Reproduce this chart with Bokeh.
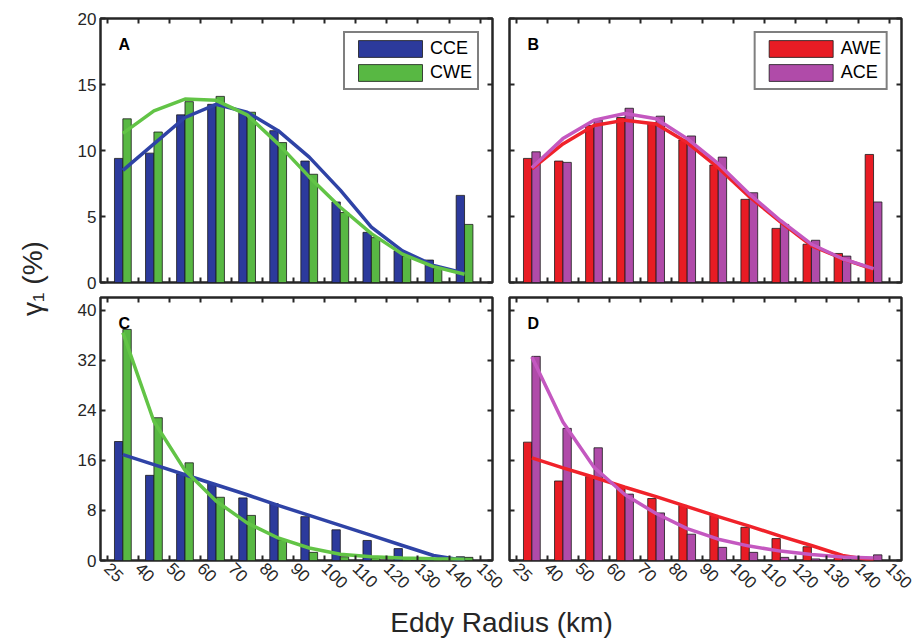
import math
import numpy as np
from bokeh.plotting import figure
from bokeh.models import FixedTicker, LinearAxis, Label, Legend, LegendItem, Range1d
from bokeh.layouts import row, column
from bokeh.embed import file_html
from bokeh.resources import INLINE

# ---------------- data ----------------
radius_labels = ["25", "40", "50", "60", "70", "80", "90", "100", "110", "120", "130", "140", "150"]

# Panel A (CCE / CWE)
cce_a = [9.4, 9.8, 12.7, 13.5, 12.9, 11.5, 9.2, 6.1, 3.8, 2.4, 1.7, 6.6]
cwe_a = [12.4, 11.4, 13.7, 14.1, 12.9, 10.6, 8.2, 5.3, 3.4, 2.0, 1.1, 4.4]
cce_a_fit = [8.5, 10.5, 12.5, 13.5, 12.9, 11.5, 9.5, 7.0, 4.2, 2.4, 1.3, 0.7]
cwe_a_fit = [11.3, 13.0, 13.9, 13.8, 12.7, 10.5, 8.0, 5.7, 3.7, 2.15, 1.2, 0.63]

# Panel B (AWE / ACE)
awe_b = [9.4, 9.2, 11.9, 12.5, 12.1, 10.8, 8.9, 6.3, 4.1, 2.9, 2.2, 9.7]
ace_b = [9.9, 9.1, 12.3, 13.2, 12.6, 11.1, 9.5, 6.8, 4.4, 3.2, 2.0, 6.1]
awe_b_fit = [8.6, 10.5, 11.9, 12.3, 12.0, 10.6, 8.7, 6.5, 4.6, 2.8, 1.8, 1.0]
ace_b_fit = [8.7, 10.9, 12.3, 12.8, 12.4, 10.9, 9.0, 6.7, 4.7, 2.9, 1.8, 1.05]

# Panel C (CCE / CWE)
cce_c = [19.0, 13.6, 13.8, 12.3, 10.0, 9.1, 7.0, 4.9, 3.2, 1.9, 0.4, 0.6]
cwe_c = [36.9, 22.8, 15.6, 10.1, 7.2, 3.3, 1.3, 0.6, 0.4, 0.3, 0.2, 0.5]
cce_c_fit = [16.9, 15.3, 13.7, 12.1, 10.5, 8.8, 7.2, 5.6, 4.0, 2.4, 0.8, 0.0]
cwe_c_fit = [36.4, 22.2, 14.4, 9.5, 6.0, 3.6, 2.0, 1.0, 0.6, 0.4, 0.27, 0.2]

# Panel D (AWE / ACE)
awe_d = [18.9, 12.7, 13.4, 11.8, 9.9, 8.8, 7.2, 5.3, 3.5, 2.2, 0.6, 0.5]
ace_d = [32.6, 21.1, 18.0, 10.6, 7.6, 4.2, 2.1, 1.3, 0.5, 0.25, 0.2, 0.9]
awe_d_fit = [16.4, 14.8, 13.3, 11.7, 10.2, 8.6, 7.0, 5.5, 3.9, 2.4, 0.8, 0.0]
ace_d_fit = [32.5, 22.1, 14.9, 10.5, 7.5, 5.1, 3.4, 2.3, 1.5, 0.95, 0.55, 0.4]

yticks_top = [0, 5, 10, 15, 20]
yticks_bottom = [0, 8, 16, 24, 32, 40]

# ---------------- style ----------------
FONT = "Liberation Sans"
INK = "#262626"
BLUE_BAR, BLUE_LINE = "#2c3a9c", "#2f43a6"
GREEN_BAR, GREEN_LINE = "#58b843", "#62c446"
RED_BAR, RED_LINE = "#e81c24", "#f0222a"
PURPLE_BAR, PURPLE_LINE = "#b04ba9", "#c458c0"
TICK_FS = "17px"

n_groups = len(cce_a)
centers = np.arange(n_groups) + 0.5
BW = 0.27
xticks = list(range(len(radius_labels)))


def tick_style(ax, ticks):
    ax.ticker = FixedTicker(ticks=ticks)
    ax.axis_line_color = None
    ax.major_tick_in = 5
    ax.major_tick_out = 0
    ax.major_tick_line_width = 2
    ax.major_tick_line_color = INK
    ax.minor_tick_line_color = None
    ax.major_label_text_font = FONT
    ax.major_label_text_color = INK
    ax.major_label_text_font_size = TICK_FS
    ax.major_label_standoff = 4


def hide_labels(ax, ticks):
    ax.major_label_overrides = {t: "" for t in ticks}
    ax.major_label_text_font_size = "0px"
    ax.major_label_standoff = 0


def panel(letter, s1, s2, f1, f2, c1, c2, names, ymax, yticks,
          width, height, bl, br, bt, bb, show_x, show_y, legend):
    p = figure(width=width, height=height, x_range=Range1d(-0.22, 12.4),
               y_range=Range1d(0, ymax), toolbar_location=None,
               output_backend="svg", min_border_left=bl, min_border_right=br,
               min_border_top=bt, min_border_bottom=bb)
    p.grid.visible = False
    p.outline_line_color = INK
    p.outline_line_width = 2.5
    p.outline_line_alpha = 1.0
    p.background_fill_color = "white"
    p.border_fill_color = "white"

    xa = p.xaxis[0]
    tick_style(xa, xticks)
    if show_x:
        xa.major_label_overrides = {i: lab for i, lab in enumerate(radius_labels)}
        xa.major_label_orientation = -math.pi / 4
        xa.major_label_standoff = 5
    else:
        hide_labels(xa, xticks)
    ya = p.yaxis[0]
    tick_style(ya, yticks)
    if not show_y:
        hide_labels(ya, yticks)

    top_ax = LinearAxis()
    tick_style(top_ax, xticks)
    hide_labels(top_ax, xticks)
    p.add_layout(top_ax, "above")
    right_ax = LinearAxis()
    tick_style(right_ax, yticks)
    hide_labels(right_ax, yticks)
    p.add_layout(right_ax, "right")

    r1 = p.vbar(x=centers - BW / 2, top=s1, width=BW, fill_color=c1[0],
                line_color="#1a1a1a", line_width=0.8)
    r2 = p.vbar(x=centers + BW / 2, top=s2, width=BW, fill_color=c2[0],
                line_color="#1a1a1a", line_width=0.8)
    p.line(x=centers, y=f1, line_color=c1[1], line_width=3.5)
    p.line(x=centers, y=f2, line_color=c2[1], line_width=3.5)

    p.add_layout(Label(x=0.36, y=ymax * 0.9, text=letter, text_font=FONT,
                       text_font_style="bold", text_font_size="16px",
                       text_color="black", text_baseline="middle"))

    if legend:
        lg = Legend(items=[LegendItem(label=names[0], renderers=[r1]),
                           LegendItem(label=names[1], renderers=[r2])],
                    location="top_right", margin=13, padding=5, spacing=3,
                    glyph_width=80, glyph_height=21, label_standoff=0,
                    label_text_font=FONT, label_text_font_size="18px",
                    label_text_color="black", border_line_color="black",
                    border_line_width=2.5, background_fill_alpha=1.0)
        p.add_layout(lg)
    return p


# left column: frame x 100..492 ; right column: frame x 509..901
# top row: frame y 18..282 ; bottom row: frame y 297..560
pA = panel("A", cce_a, cwe_a, cce_a_fit, cwe_a_fit, (BLUE_BAR, BLUE_LINE),
           (GREEN_BAR, GREEN_LINE), ("CCE", "CWE"), 20, yticks_top,
           448, 294, 42, 14, 18, 12, False, True, True)
pB = panel("B", awe_b, ace_b, awe_b_fit, ace_b_fit, (RED_BAR, RED_LINE),
           (PURPLE_BAR, PURPLE_LINE), ("AWE", "ACE"), 20, yticks_top,
           410, 294, 3, 15, 18, 12, False, False, True)
pC = panel("C", cce_c, cwe_c, cce_c_fit, cwe_c_fit, (BLUE_BAR, BLUE_LINE),
           (GREEN_BAR, GREEN_LINE), ("CCE", "CWE"), 42, yticks_bottom,
           448, 306, 42, 14, 3, 40, True, True, False)
pD = panel("D", awe_d, ace_d, awe_d_fit, ace_d_fit, (RED_BAR, RED_LINE),
           (PURPLE_BAR, PURPLE_LINE), ("AWE", "ACE"), 42, yticks_bottom,
           410, 306, 3, 15, 3, 40, True, False, False)


def text_fig(w, h):
    f = figure(width=w, height=h, x_range=Range1d(0, w), y_range=Range1d(0, h),
               toolbar_location=None, output_backend="svg",
               x_axis_location=None, y_axis_location=None, min_border=0)
    f.outline_line_color = None
    f.grid.visible = False
    f.background_fill_color = "white"
    f.border_fill_color = "white"
    return f


yfig = text_fig(58, 600)
yfig.add_layout(Label(x=32, y=322, text="γ₁ (%)", angle=math.pi / 2,
                      text_align="center", text_baseline="middle",
                      text_font=FONT, text_font_size="28px", text_color=INK))
xfig = text_fig(916, 44)
xfig.add_layout(Label(x=501, y=22, text="Eddy Radius (km)", text_align="center",
                      text_baseline="middle", text_font=FONT,
                      text_font_size="28px", text_color=INK))

layout = column(row(yfig, column(row(pA, pB), row(pC, pD))), xfig)

open("out.html", "w").write(file_html(layout, INLINE))
